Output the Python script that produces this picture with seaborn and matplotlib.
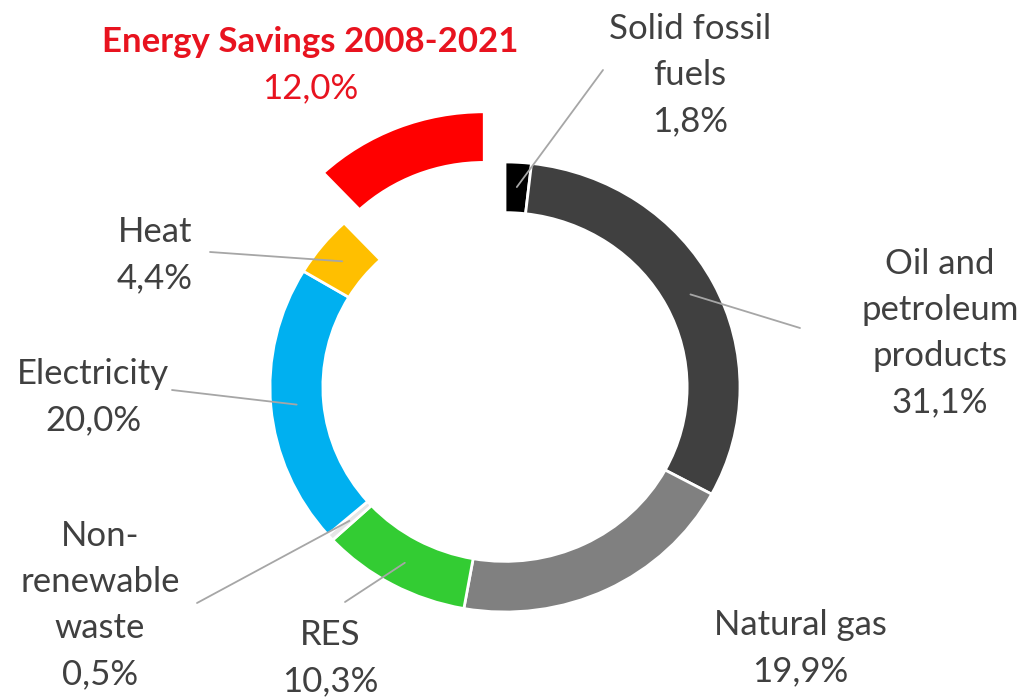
import numpy as np
import matplotlib
matplotlib.use("Agg")
import matplotlib.pyplot as plt
import seaborn as sns

sns.set_theme(style="white")
plt.rcParams['font.family'] = ['Lato', 'DejaVu Sans']

# ---- data ----
categories = ["Solid fossil fuels", "Oil and petroleum products", "Natural gas", "RES",
              "Non-renewable waste", "Electricity", "Heat", "Energy Savings 2008-2021"]
shares = [1.8, 31.1, 19.9, 10.3, 0.5, 20.0, 4.4, 12.0]
label_texts = ["Solid fossil\nfuels\n1,8%", "Oil and\npetroleum\nproducts\n31,1%",
               "Natural gas\n19,9%", "RES\n10,3%", "Non-\nrenewable\nwaste\n0,5%",
               "Electricity\n20,0%", "Heat\n4,4%", None]
colors = ["#000000", "#404040", "#808080", "#33CC33", "#E6E6E6", "#00B0F0", "#FFBF00", "#FF0000"]
explode = [0, 0, 0, 0, 0, 0, 0, 0.24]

W, H = 1025, 700
CX, CY, RX, RY = 505, 387, 235, 225

def px(x, y):
    return ((x - CX) / RX, (CY - y) / RY)

fig = plt.figure(figsize=(W / 100, H / 100), dpi=100)
ax = fig.add_axes([0, 0, 1, 1])
wedges, _ = ax.pie(shares, colors=colors, startangle=90, counterclock=False,
                   explode=explode, radius=1.0,
                   wedgeprops=dict(width=0.225, edgecolor="white", linewidth=2))
ax.set_aspect("auto")
x0, y0 = px(0, H)
x1, y1 = px(W, 0)
ax.set_xlim(x0, x1)
ax.set_ylim(y0, y1)
ax.axis("off")

text_color = "#404040"
FS = 25
# label block centres (pixels) and leader end points (pixels)
label_pos = [(690, 75), (940, 333), (800, 648), (330, 658), (100, 605), (93, 397), (155, 255)]
leader_end = [(603, 70), (800, 328), None, (345, 602), (197, 603), (172, 390), (210, 252)]

for i, w in enumerate(wedges[:7]):
    lx, ly = px(*label_pos[i])
    ax.text(lx, ly, label_texts[i], ha="center", va="center", fontsize=FS,
            color=text_color, linespacing=1.55)
    if leader_end[i] is not None:
        ang = np.deg2rad((w.theta1 + w.theta2) / 2)
        sx, sy = 0.89 * np.cos(ang), 0.89 * np.sin(ang)
        ex, ey = px(*leader_end[i])
        ax.plot([sx, ex], [sy, ey], color="#A6A6A6", lw=1.3, zorder=3)

tx, ty = px(310, 42)
ax.text(tx, ty, categories[7], ha="center", va="center", fontsize=FS,
        color="#E8131F", fontweight="bold")
tx, ty = px(310, 88)
ax.text(tx, ty, f"{shares[7]:.1f}%".replace(".", ","), ha="center", va="center",
        fontsize=FS, color="#E8131F")

fig.savefig("out.png", dpi=100, facecolor="white")
